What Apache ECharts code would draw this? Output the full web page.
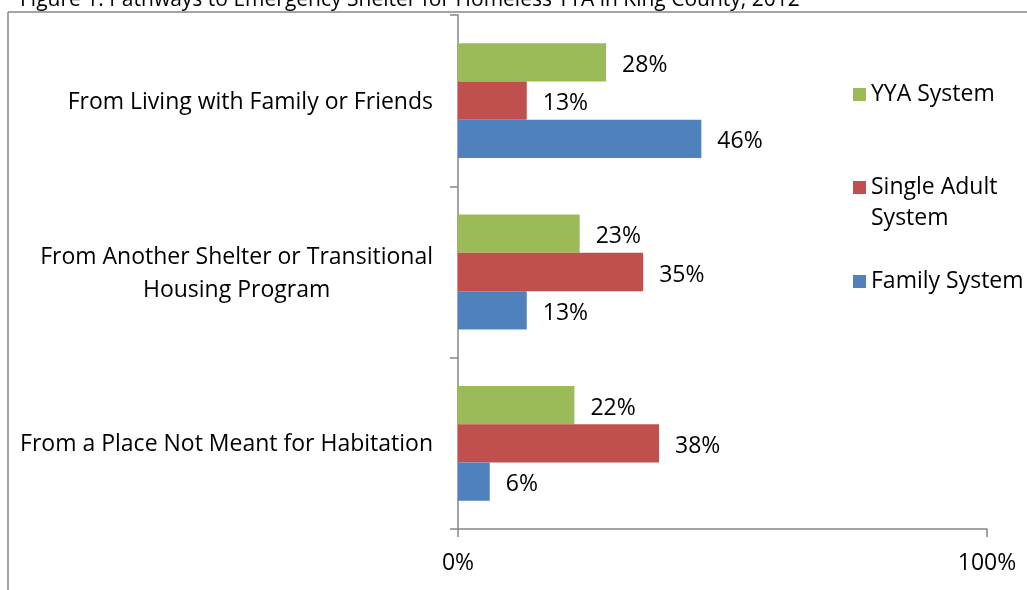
<!DOCTYPE html>
<html><head><meta charset="utf-8">
<script src="https://cdn.jsdelivr.net/npm/echarts/dist/echarts.min.js"></script>
<style>html,body{margin:0;padding:0;background:#fff}#c{width:1027px;height:590px}</style>
</head><body><div id="c"></div>
<script>
// ---- data ----
const titleText = 'Figure 1: Pathways to Emergency Shelter for Homeless YYA in King County, 2012';
// categories listed bottom to top
const categories = [
  'From a Place Not Meant for Habitation',
  'From Another Shelter or Transitional\nHousing Program',
  'From Living with Family or Friends'
];
// series order: first drawn on top within each category
const seriesNames = ['YYA System', 'Single Adult System', 'Family System'];
const yyaValues = [22, 23, 28];
const singleAdultValues = [38, 35, 13];
const familyValues = [6, 13, 46];
const xTickValues = [0, 100];
const legendOrder = ['YYA System', 'Single Adult System', 'Family System'];

// ---- styles ----
const FONT = 'Open Sans';
const FS = 23;
const colors = {'Family System': '#4F81BD', 'Single Adult System': '#C0504D', 'YYA System': '#9BBB59'};
const valuesByName = {'Family System': familyValues, 'Single Adult System': singleAdultValues, 'YYA System': yyaValues};
const axisColor = '#868686';

const chart = echarts.init(document.getElementById('c'));

const legendTops = {'YYA System': 78, 'Single Adult System': 140, 'Family System': 265};
const legends = legendOrder.map(name => {
  const multi = name === 'Single Adult System';
  return {
    orient: 'vertical', left: 848, top: legendTops[name],
    icon: 'rect', itemWidth: 13, itemHeight: 13, itemGap: 0,
    selectedMode: false,
    data: [name],
    formatter: multi ? () => '{p| }\n{a|Single Adult}\n{a|System}' : n => n,
    textStyle: {fontFamily: FONT, fontSize: FS, color: '#000',
      rich: {p: {fontSize: FS, lineHeight: 31}, a: {fontFamily: FONT, fontSize: FS, color: '#000', lineHeight: 31}}}
  };
});

chart.setOption({
  animation: false,
  backgroundColor: '#fff',
  textStyle: {fontFamily: FONT},
  grid: {left: 458, right: 40, top: 15, bottom: 61, containLabel: false},
  legend: legends,
  xAxis: {
    type: 'value', min: xTickValues[0], max: xTickValues[xTickValues.length - 1],
    interval: xTickValues[1] - xTickValues[0],
    splitLine: {show: false},
    axisLine: {show: true, lineStyle: {color: axisColor, width: 1.5}},
    axisTick: {show: true, length: 8, lineStyle: {color: axisColor, width: 1.5}},
    axisLabel: {formatter: '{value}%', margin: 23, fontFamily: FONT, fontSize: FS, color: '#000'}
  },
  yAxis: {
    type: 'category', data: categories,
    axisLine: {show: true, lineStyle: {color: axisColor, width: 1.5}},
    axisTick: {show: true, length: 8, alignWithLabel: false, lineStyle: {color: axisColor, width: 1.5}},
    axisLabel: {
      margin: 25, fontFamily: FONT, fontSize: FS, color: '#000', lineHeight: 33,
      padding: [3, 0, 0, 0],
      formatter: v => v.split('\n').map(l => '{c|' + l + '}').join('\n'),
      rich: {c: {align: 'center', fontFamily: FONT, fontSize: FS, color: '#000', lineHeight: 33}}
    }
  },
  series: seriesNames.map(name => ({
    name, type: 'bar', data: valuesByName[name],
    barGap: '0%', barCategoryGap: '33%',
    itemStyle: {color: colors[name]},
    label: {show: true, position: 'right', distance: 16, offset: [0, 3], formatter: '{c}%',
      fontFamily: FONT, fontSize: FS, color: '#000'}
  })),
  graphic: [
    {type: 'line', shape: {x1: 8, y1: 12, x2: 1027, y2: 12}, style: {stroke: '#868686', lineWidth: 1.5}, silent: true},
    {type: 'line', shape: {x1: 8, y1: 12, x2: 8, y2: 590}, style: {stroke: '#868686', lineWidth: 1.5}, silent: true},
    {type: 'text', x: 20, y: 11, style: {text: titleText, font: '21px ' + FONT, fill: '#000', verticalAlign: 'bottom'}, silent: true}
  ]
});
</script></body></html>
